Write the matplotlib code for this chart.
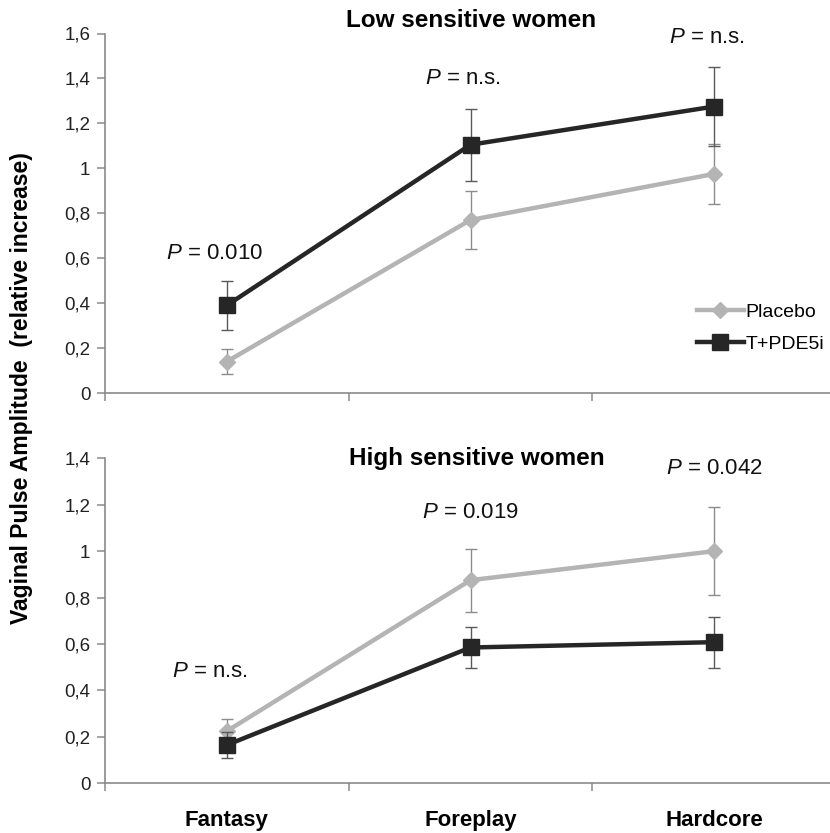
import numpy as np
import matplotlib
matplotlib.use("Agg")
from matplotlib import pyplot as plt

plt.rcParams["font.family"] = ["Liberation Sans", "DejaVu Sans"]
plt.rcParams["mathtext.fontset"] = "custom"
plt.rcParams["mathtext.it"] = "Liberation Sans:italic"
plt.rcParams["mathtext.rm"] = "Liberation Sans"

# data
conditions = ["Fantasy", "Foreplay", "Hardcore"]

low_placebo = [0.14, 0.77, 0.975]
low_placebo_err = [0.055, 0.13, 0.135]
low_treat = [0.39, 1.105, 1.275]
low_treat_err = [0.11, 0.16, 0.175]
low_p = ["0.010", "n.s.", "n.s."]

high_placebo = [0.225, 0.875, 1.0]
high_placebo_err = [0.05, 0.135, 0.19]
high_treat = [0.165, 0.585, 0.608]
high_treat_err = [0.055, 0.09, 0.11]
high_p = ["n.s.", "0.019", "0.042"]

top_yticks = [0, 0.2, 0.4, 0.6, 0.8, 1.0, 1.2, 1.4, 1.6]
top_ylabels = ["0", "0,2", "0,4", "0,6", "0,8", "1", "1,2", "1,4", "1,6"]
bot_yticks = [0, 0.2, 0.4, 0.6, 0.8, 1.0, 1.2, 1.4]
bot_ylabels = ["0", "0,2", "0,4", "0,6", "0,8", "1", "1,2", "1,4"]

W, H = 830, 833
fig = plt.figure(figsize=(W / 100, H / 100), dpi=100)

ax1 = fig.add_axes([105 / W, 1 - 393 / H, 731 / W, 359.5 / H])
ax2 = fig.add_axes([105 / W, 1 - 783.3 / H, 731 / W, 325 / H])

light = "#b4b4b4"
dark = "#262626"
axis_col = "#8a8a8a"
x = np.arange(len(conditions))


def draw(ax, plc, plc_err, trt, trt_err, ymax, yticks, ylabels):
    c1 = ax.errorbar(x, plc, yerr=plc_err, color=light, lw=3.2, marker="D",
                     ms=8.5, ecolor="#8c8c8c", elinewidth=1, capsize=4,
                     capthick=1, label="Placebo", zorder=3)
    c2 = ax.errorbar(x, trt, yerr=trt_err, color=dark, lw=3.2, marker="s",
                     ms=12, ecolor="#5a5a5a", elinewidth=1, capsize=4,
                     capthick=1, label="T+PDE5i", zorder=4)
    ax.set_xlim(-0.5, 2.5)
    ax.set_ylim(0, ymax)
    ax.set_yticks(yticks, ylabels)
    ax.set_xticks([-0.5, 0.5, 1.5, 2.5], [])
    for s in ["top", "right"]:
        ax.spines[s].set_visible(False)
    for s in ["left", "bottom"]:
        ax.spines[s].set_color(axis_col)
        ax.spines[s].set_linewidth(1.2)
    ax.spines["left"].set_bounds(0, ymax)
    ax.tick_params(axis="both", direction="out", length=5.5, width=1.1,
                   color=axis_col, labelsize=13.5, labelcolor="#222222")
    ax.tick_params(axis="y", pad=5)
    return c1, c2


c1, c2 = draw(ax1, low_placebo, low_placebo_err, low_treat, low_treat_err,
              1.6, top_yticks, top_ylabels)
draw(ax2, high_placebo, high_placebo_err, high_treat, high_treat_err, 1.4,
     bot_yticks, bot_ylabels)

# category labels under the lower panel
ax2.set_xticks(x, conditions, minor=True)
ax2.tick_params(axis="x", which="minor", length=0, pad=19, labelsize=16)
for t in ax2.get_xticklabels(minor=True):
    t.set_fontweight("bold")

# P values
for xi, yi, p in zip([-0.05, 0.97, 1.97], [0.62, 1.40, 1.58], low_p):
    ax1.text(xi, yi, "$P$ = " + p, fontsize=16, ha="center", va="center",
             color="#111111")
for xi, yi, p in zip([-0.07, 1.0, 2.0], [0.48, 1.165, 1.355], high_p):
    ax2.text(xi, yi, "$P$ = " + p, fontsize=16, ha="center", va="center",
             color="#111111")

ax1.text(0.5007, 1.035, "Low sensitive women", transform=ax1.transAxes,
         ha="center", va="center", fontsize=17.5, fontweight="bold")
ax2.text(0.509, 1.0, "High sensitive women", transform=ax2.transAxes,
         ha="center", va="center", fontsize=17.5, fontweight="bold")

fig.text(22 / W, 1 - 388 / H, "Vaginal Pulse Amplitude  (relative increase)",
         rotation=90, ha="center", va="center", fontsize=16.5,
         fontweight="bold")

ax1.legend(handles=[c1[0], c2[0]], labels=["Placebo", "T+PDE5i"],
           loc="upper left", bbox_to_anchor=(697 / W, 1 - 303 / H),
           bbox_transform=fig.transFigure, frameon=False, fontsize=14,
           handlelength=2.4, handletextpad=0.1, labelspacing=0.75,
           borderpad=0, borderaxespad=0)

plt.savefig("out.png", dpi=100)
